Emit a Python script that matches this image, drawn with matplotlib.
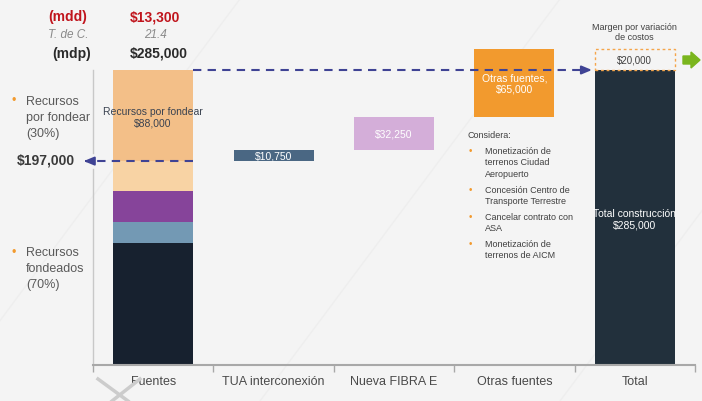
import matplotlib.pyplot as plt
from matplotlib.patches import Rectangle, Polygon
from matplotlib.lines import Line2D
from matplotlib.transforms import IdentityTransform

plt.rcParams['font.family'] = ['Liberation Sans', 'DejaVu Sans']

# data (mdp)
categories = ['Fuentes', 'TUA interconexión', 'Nueva FIBRA E', 'Otras fuentes', 'Total']
fondeados = [118000, 20000, 30000, 29000]
fondeados_colors = ['#17212f', '#7399b4', '#86449a', '#f8d3a4']
por_fondear = 88000
aportes = [10750, 32250, 65000]
aportes_labels = ['$10,750', '$32,250', 'Otras fuentes,\n$65,000']
aportes_colors = ['#4a6783', '#d4aed9', '#f29a2e']
total = 285000
margen = 20000
considera = ['Monetización de\nterrenos Ciudad\nAeropuerto',
             'Concesión Centro de\nTransporte Terrestre',
             'Cancelar contrato con\nASA',
             'Monetización de\nterrenos de AICM']

W, H = 702, 402
def px(x, y):
    return x / W, 1 - y / H

fig = plt.figure(figsize=(7.02, 4.02), dpi=100)
fig.patch.set_facecolor('#f4f4f4')

# faint slide decoration
for x0 in [-60, 260, 560]:
    fig.add_artist(Line2D([x0 / W, (x0 + 300) / W], [0, 1], color='#eeeeee', lw=1, zorder=0))
fig.add_artist(Line2D([98 / W, 128 / W], [1 - 380 / H, 0], color='#cccccc', lw=2.5))
fig.add_artist(Line2D([140 / W, 112 / W], [1 - 380 / H, 0], color='#cccccc', lw=2.5))

ax = fig.add_axes([93 / W, 1 - 366 / H, (695 - 93) / W, 341.6 / H])
ax.set_facecolor('none')
ax.set_xlim(-0.5, 4.5)
ax.set_ylim(0, 330000)

bw = 0.665
dark_text = '#404040'

# Fuentes: stacked
bottom = 0
for v, c in zip(fondeados, fondeados_colors):
    ax.bar(0, v, bw, bottom=bottom, color=c)
    bottom += v
fondeado_total = bottom
ax.bar(0, por_fondear, bw, bottom=bottom, color='#f3bf88')
ax.text(0, 240000, 'Recursos por fondear\n$88,000', ha='center', va='center',
        fontsize=7.5, color='#3a4250', linespacing=1.2)

# floating bars
base = fondeado_total
for i, (v, c, lab) in enumerate(zip(aportes, aportes_colors, aportes_labels)):
    ax.bar(i + 1, v, bw, bottom=base, color=c)
    ax.text(i + 1, base + v / 2, lab, ha='center', va='center', fontsize=7.5, color='white',
            linespacing=1.2)
    base += v

# total + margin
ax.bar(4, total, bw, color='#22303c')
ax.text(4, 141000, 'Total construcción\n$285,000', ha='center', va='center', fontsize=7.5,
        color='white', linespacing=1.2)
ax.add_patch(Rectangle((4 - bw / 2, total), bw, margen, fill=False, ec='#f5a54a',
                       ls=(0, (2, 2)), lw=1))
ax.text(4, total + margen / 2, '$20,000', ha='center', va='center', fontsize=7, color=dark_text)
ax.text(4, 322000, 'Margen por variación\nde costos', ha='center', va='center', fontsize=6.5,
        color=dark_text, clip_on=False)

# dashed arrows
arrow_c = '#3f4394'
ax.plot([bw / 2, 4 - bw / 2 - 0.08], [total, total], ls=(0, (4, 3)), color=arrow_c, lw=1.5)
ax.annotate('', xy=(4 - bw / 2, total), xytext=(4 - bw / 2 - 0.1, total),
            arrowprops=dict(arrowstyle='-|>,head_length=0.6,head_width=0.25', color=arrow_c, lw=1.5))
ax.plot([bw / 2, -0.53], [fondeado_total, fondeado_total], ls=(0, (4, 3)), color=arrow_c,
        lw=1.5, clip_on=False)
ax.annotate('', xy=(-0.6, fondeado_total), xytext=(-0.52, fondeado_total),
            arrowprops=dict(arrowstyle='-|>,head_length=0.6,head_width=0.25', color=arrow_c, lw=1.5),
            annotation_clip=False)

# axes styling
for s in ['top', 'right', 'left']:
    ax.spines[s].set_visible(False)
ax.spines['bottom'].set_color('#a8a8a8')
ax.spines['bottom'].set_linewidth(1.5)
ax.set_yticks([])
ax.set_xticks([i - 0.5 for i in range(6)])
ax.set_xticklabels([])
ax.tick_params(axis='x', length=5, width=1, color='#a8a8a8')
for i, lab in enumerate(categories):
    ax.text(i, -15000, lab, ha='center', va='center', fontsize=9, color='#4a4a4a')

# brackets on the left
ax.plot([-0.5, -0.5], [fondeado_total + 8000, total], color='#c8c8c8', lw=1, clip_on=False)
ax.plot([-0.5, -0.5], [0, fondeado_total - 8000], color='#c8c8c8', lw=1, clip_on=False)

# header
fig.text(*px(68, 17), '(mdd)', ha='center', va='center', fontsize=10, fontweight='bold', color='#c0141c')
fig.text(*px(155, 17), '$13,300', ha='center', va='center', fontsize=10, fontweight='bold', color='#c0141c')
fig.text(*px(68, 35), 'T. de C.', ha='center', va='center', fontsize=8.5, style='italic', color='#8a8a8a')
fig.text(*px(155, 35), '21.4', ha='center', va='center', fontsize=8.5, style='italic', color='#8a8a8a')
fig.text(*px(72, 54), '(mdp)', ha='center', va='center', fontsize=10, fontweight='bold', color='#2a2a2a')
fig.text(*px(159, 54), '$285,000', ha='center', va='center', fontsize=10, fontweight='bold', color='#2a2a2a')

# left labels
fig.text(*px(11, 101), '•', ha='left', va='center', fontsize=9, color='#f29a2e')
fig.text(*px(26, 118), 'Recursos\npor fondear\n(30%)', ha='left', va='center', fontsize=9,
         color='#5a5a5a', linespacing=1.45)
fig.text(*px(11, 253), '•', ha='left', va='center', fontsize=9, color='#f29a2e')
fig.text(*px(26, 269), 'Recursos\nfondeados\n(70%)', ha='left', va='center', fontsize=9,
         color='#5a5a5a', linespacing=1.45)
fig.text(*px(46, 161), '$197,000', ha='center', va='center', fontsize=10, fontweight='bold', color='#3a3a3a')

# considera list
fig.text(*px(467, 136), 'Considera:', ha='left', va='center', fontsize=6.5, color=dark_text)
ys = [163, 196, 223, 250]
for y, item in zip(ys, considera):
    n = item.count('\n')
    fig.text(*px(469, y - n * 5.8), '•', ha='left', va='center', fontsize=7, color='#f29a2e')
    fig.text(*px(485, y), item, ha='left', va='center', fontsize=6.5, color=dark_text, linespacing=1.35)

# green arrow (pixel coords)
arrow_pts = [(683, 57), (691, 57), (691, 53), (700, 61), (691, 69), (691, 65), (683, 65)]
fig.add_artist(Polygon([(x, H - y) for x, y in arrow_pts], closed=True, color='#7ab51d',
                       transform=IdentityTransform()))

fig.savefig('out.png', dpi=100, facecolor=fig.get_facecolor())
